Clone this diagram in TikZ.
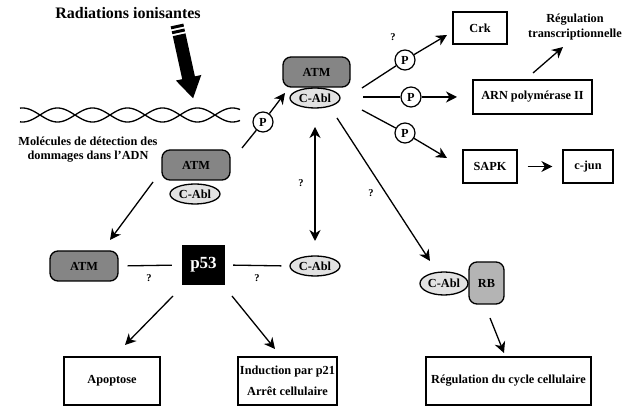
\documentclass[tikz,border=0pt]{standalone}
\usepackage{fontspec}
\setmainfont{Liberation Serif}
\usetikzlibrary{arrows.meta,shapes.geometric}
\definecolor{atmgray}{HTML}{858585}
\definecolor{rbgray}{HTML}{B4B4B4}
\definecolor{abllight}{HTML}{E2E2E2}
\begin{document}
\begin{tikzpicture}[x=1pt,y=-1pt,
  font=\bfseries\fontsize{12.3}{14}\selectfont,
  atm/.style={draw, line width=1.3pt, rounded corners=8pt, fill=atmgray, minimum width=68pt, minimum height=30pt, inner sep=0pt},
  rbbox/.style={draw, line width=1.3pt, rounded corners=8pt, fill=rbgray, minimum width=35pt, minimum height=42pt, inner sep=0pt},
  cabl/.style={ellipse, draw, line width=1.3pt, fill=abllight, minimum width=50pt, minimum height=20pt, inner sep=0pt},
  box/.style={draw, line width=1.3pt, inner sep=0pt},
  pnode/.style={circle, draw, line width=1.2pt, fill=white, minimum size=20pt, inner sep=0pt},
  arr/.style={-{Stealth[length=11pt,width=11pt,inset=3.5pt]}, line width=1.3pt},
  dblarr/.style={{Stealth[length=11pt,width=11pt,inset=3.5pt]}-{Stealth[length=11pt,width=11pt,inset=3.5pt]}, line width=1.3pt},
  ln/.style={line width=1.3pt},
  qm/.style={font=\bfseries\fontsize{10.5}{11}\selectfont, inner sep=0pt}]
\useasboundingbox (0,0) rectangle (625,411);

% title and big arrow
\node (rad) at (128,13) {\fontsize{16}{18}\selectfont Radiations ionisantes};
\fill (170.65,26.39) -- (183.35,23.61) -- (183.99,26.54) -- (171.29,29.32) -- cycle;
\fill (171.72,31.28) -- (184.42,28.50) -- (185.06,31.43) -- (172.36,34.21) -- cycle;
\fill (172.79,36.16) -- (185.49,33.38) -- (194.92,76.38) -- (201.27,74.99)
      -- (193.07,98.29) -- (175.87,80.55) -- (182.22,79.16) -- cycle;

% DNA helix
\draw[line width=1.3pt] plot[domain=20:240, samples=220, smooth] (\x, {115+7*sin(5.142857*(\x-40))});
\draw[line width=1.3pt] plot[domain=20:240, samples=220, smooth] (\x, {115-7*sin(5.142857*(\x-40))});

\node[align=center] (mol) at (88,150) {Molécules de détection des\\dommages dans l’ADN};

% proteins
\node[atm] (atm1) at (196,165) {ATM};
\node[cabl] (abl1) at (195,194) {C-Abl};
\node[atm, minimum width=67pt] (atm2) at (316.5,72) {ATM};
\node[cabl] (abl2) at (315,98) {C-Abl};
\node[atm] (atm3) at (84,266) {ATM};
\node[fill=black, text=white, minimum width=43pt, minimum height=40pt, inner sep=0pt,
      font=\bfseries\fontsize{17}{18}\selectfont] (p53) at (203.5,265) {p53};
\node[cabl] (abl3) at (315,266) {C-Abl};
\node[rbbox] (rb) at (486.5,283) {RB};
\node[cabl, minimum width=48pt, minimum height=23pt] (abl4) at (444,283.5) {C-Abl};

% boxes
\node[box, minimum width=54pt, minimum height=32pt] (crk) at (480,28) {Crk};
\node[box, minimum width=119pt, minimum height=34pt] (arn) at (532.5,97) {ARN polymérase II};
\node[box, minimum width=54pt, minimum height=33pt] (sapk) at (490,166.5) {SAPK};
\node[box, minimum width=50pt, minimum height=33pt] (cjun) at (588,166.5) {c-jun};
\node[align=center, font=\bfseries\fontsize{12.3}{15}\selectfont] (regt) at (575,27.5) {Régulation\\transcriptionnelle};
\node[box, minimum width=96pt, minimum height=48pt] (apo) at (112,381) {Apoptose};
\node[box, minimum width=99pt, minimum height=48pt, align=center,
      font=\bfseries\fontsize{12.3}{21}\selectfont] (ind) at (287.5,381) {Induction par p21\\Arrêt cellulaire};
\node[box, minimum width=165pt, minimum height=48pt] (rcc) at (508.5,381) {Régulation du cycle cellulaire};

% coordinates for free ends
\coordinate (s1) at (242,148); \coordinate (t1) at (285,93);
\coordinate (s2) at (362,88);  \coordinate (t2) at (447,35);
\coordinate (s3) at (363,97);  \coordinate (t3) at (457,97);
\coordinate (s4) at (362,110); \coordinate (t4) at (447,158);
\coordinate (s5) at (533,73);  \coordinate (t5) at (563,47);
\coordinate (s6) at (315,127); \coordinate (t6) at (315,241);
\coordinate (s7) at (337,118); \coordinate (t7) at (430,261);
\coordinate (s8) at (153,182); \coordinate (t8) at (110,240);
\coordinate (s9) at (173,296); \coordinate (t9) at (125,345);
\coordinate (s10) at (232,296); \coordinate (t10) at (275,349);
\coordinate (s11) at (490,318); \coordinate (t11) at (504,353);

% P circles
\node[pnode] (p1) at (263,122) {P};
\node[pnode] (p2) at (405,60) {P};
\node[pnode] (p3) at (411,97) {P};
\node[pnode] (p4) at (405,133) {P};

% connectors
\draw[ln] (s1) -- (p1); \draw[arr] (p1) -- (t1);
\draw[ln] (s2) -- (p2); \draw[arr] (p2) -- (t2);
\draw[ln] (s3) -- (p3); \draw[arr] (p3) -- (t3);
\draw[ln] (s4) -- (p4); \draw[arr] (p4) -- (t4);
\draw[arr, shorten <=10pt, shorten >=10pt] (sapk.east) -- (cjun.west);
\draw[arr] (s5) -- (t5);
\draw[dblarr] (s6) -- (t6);
\draw[arr] (s7) -- (t7);
\draw[arr] (s8) -- (t8);
\draw[ln, shorten <=9pt, shorten >=10pt] (atm3.east) -- (p53.west);
\draw[ln, shorten <=8pt, shorten >=8pt] (p53.east) -- (abl3.west);
\draw[arr] (s9) -- (t9);
\draw[arr] (s10) -- (t10);
\draw[arr] (s11) -- (t11);

% question marks
\node[qm] (q1) at (393,37) {?};
\node[qm] (q2) at (301,183) {?};
\node[qm] (q3) at (371,193) {?};
\node[qm] (q4) at (149,278) {?};
\node[qm] (q5) at (257,278) {?};
\end{tikzpicture}
\end{document}
